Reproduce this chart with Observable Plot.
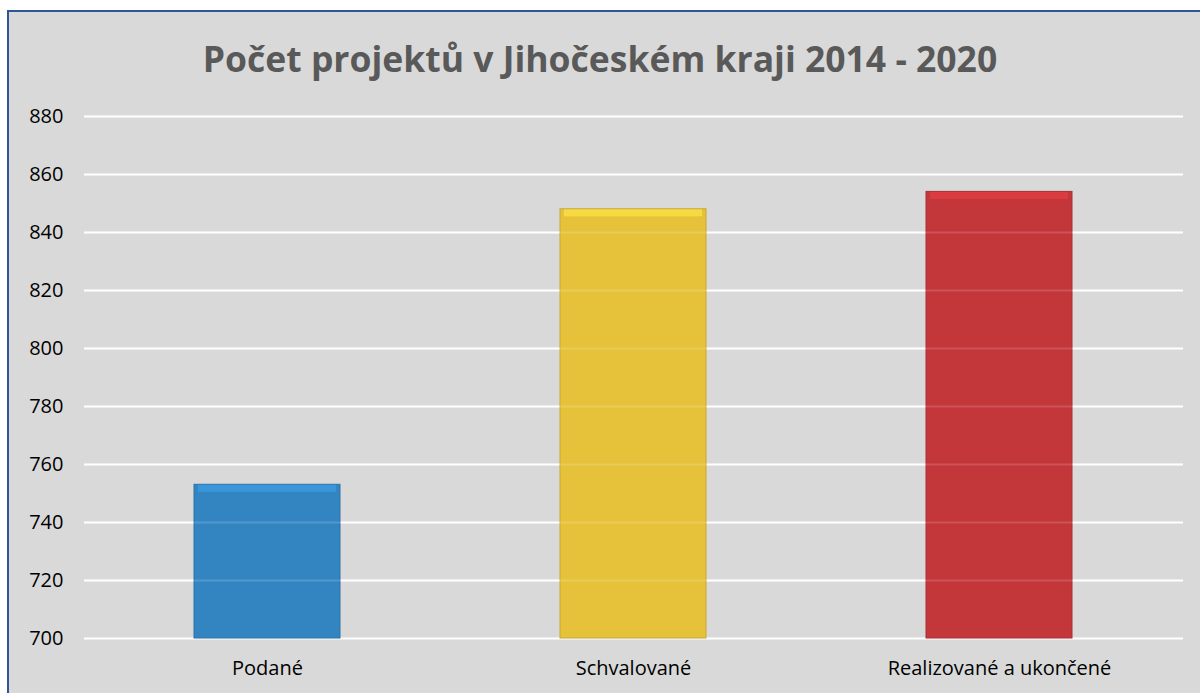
<!DOCTYPE html>
<html>
<head>
<meta charset="utf-8">
<script src="https://cdn.jsdelivr.net/npm/d3@7"></script>
<script src="https://cdn.jsdelivr.net/npm/@observablehq/plot@0.6"></script>
<style>
  html, body { margin: 0; padding: 0; background: #ffffff; width: 1200px; height: 693px; overflow: hidden; }
  #frame { position: absolute; left: 7px; top: 10px; width: 1200px; height: 700px; background: #d9d9d9;
           border-left: 2px solid #2f5597; border-top: 2px solid #2f5597; }
  #title { position: absolute; left: 0; top: 36px; width: 1200px; text-align: center;
           font-family: "Open Sans", sans-serif; font-weight: 700; font-size: 35.5px; color: #595959; line-height: 44px; }
  #chart { position: absolute; left: 0; top: 0; }
</style>
</head>
<body>
<div id="frame"></div>
<div id="title">Počet projektů v Jihočeském kraji 2014 - 2020</div>
<div id="chart"></div>
<script>
const categories = ["Podané", "Schvalované", "Realizované a ukončené"];
const values = [753, 848, 854];
const colors = ["#3385c2", "#e5c23a", "#c3363a"];
const yTicks = [700, 720, 740, 760, 780, 800, 820, 840, 860, 880];

const data = categories.map((c, i) => ({
  category: c,
  value: values[i],
  color: colors[i],
  edge: d3.color(colors[i]).darker(0.4).formatHex(),
  light: d3.color(colors[i]).brighter(0.45).formatHex()
}));

const chart = Plot.plot({
  width: 1200,
  height: 693,
  marginTop: 116,
  marginBottom: 55,
  marginLeft: 84,
  marginRight: 17,
  style: {background: "transparent", fontFamily: "'Open Sans', sans-serif", fontSize: "20px", color: "#000"},
  x: {domain: categories, paddingInner: 0.6, paddingOuter: 0.3, label: null},
  y: {domain: [700, 880], label: null},
  color: {type: "identity"},
  marks: [
    Plot.gridY(yTicks, {stroke: "#ffffff", strokeOpacity: 1, strokeWidth: 2}),
    Plot.barY(data, {x: "category", y1: d => 700, y2: d => d.value, fill: d => d.color, stroke: d => d.edge, strokeWidth: 1}),
    Plot.barY(data, {x: "category", y1: d => d.value - 0.2, y2: d => d.value - 2.6, fill: d => d.light, fillOpacity: 0.7, insetLeft: 4, insetRight: 4}),
    Plot.gridY(yTicks.slice(1), {stroke: "#ffffff", strokeOpacity: 0.15, strokeWidth: 2}),
    Plot.axisY(yTicks, {tickSize: 0, tickPadding: 21, fill: "#000", fontSize: 20}),
    Plot.axisX({tickSize: 0, tickPadding: 22, fill: "#000", fontSize: 20})
  ]
});
document.getElementById("chart").appendChild(chart);
</script>
</body>
</html>
